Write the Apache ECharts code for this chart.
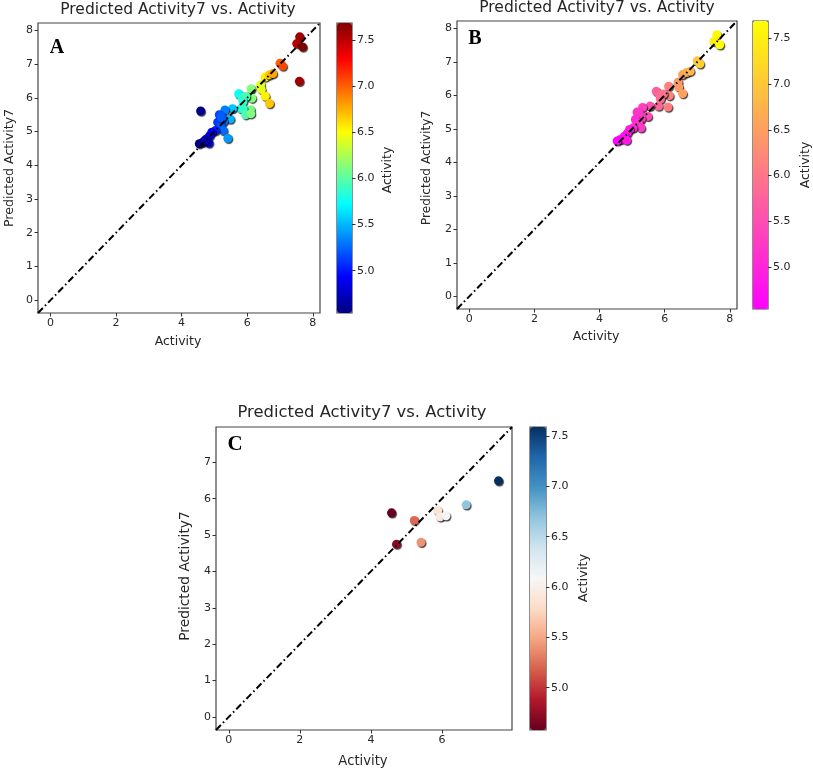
<!DOCTYPE html>
<html><head><meta charset="utf-8">
<script src="https://cdn.jsdelivr.net/npm/echarts@6/dist/echarts.min.js"></script>
<style>html,body{margin:0;padding:0;background:#fff}#c{width:813px;height:771px}</style>
</head><body><div id="c"></div>
<script>
// ---- data ----
const trainActual = [7.60,7.51,7.69,7.00,7.08,6.55,6.67,6.78,6.41,6.43,6.55,6.12,6.14,5.74,5.85,5.96,5.87,5.81,6.10,5.55,5.32,5.15,5.22,5.48,5.28,5.10,5.20,5.27,5.03,4.92,4.85,4.76,4.64,4.54,4.83];
const trainPred   = [7.81,7.61,7.51,7.03,6.94,6.62,6.68,6.72,6.39,6.25,6.05,6.27,5.99,6.12,6.00,6.04,5.89,5.68,5.65,5.68,5.64,5.50,5.46,5.37,5.30,5.28,5.17,5.03,5.03,4.98,4.87,4.78,4.68,4.64,4.66];
const testActual  = [4.58,4.72,5.22,5.41,5.88,5.95,6.11,6.68,7.59];
const testPred    = [5.61,4.75,5.40,4.80,5.67,5.50,5.53,5.83,6.49];
const limitsAB = [-0.38, 8.22];
const limitsC  = [-0.36, 7.97];
const ticksABx = [0,2,4,6,8];
const ticksABy = [0,1,2,3,4,5,6,7,8];
const ticksCx  = [0,2,4,6];
const ticksCy  = [0,1,2,3,4,5,6,7];
const cbTicks  = [5.0,5.5,6.0,6.5,7.0,7.5];
const titleText = 'Predicted Activity7 vs. Activity';
const xName = 'Activity', yName = 'Predicted Activity7', cbName = 'Activity';
const panelLetters = ['A','B','C'];

// colormaps
const jet = ['#00007f','#0000ff','#007fff','#00ffff','#7fff7f','#ffff00','#ff7f00','#ff0000','#7f0000'];
const spring = ['#ff00ff','#ffff00'];
const rdbu = ['#67001f','#b2182b','#d6604d','#f4a582','#fddbc7','#f7f7f7','#d1e5f0','#92c5de','#4393c3','#2166ac','#053061'];

const allActual = trainActual.concat(testActual);
const allPred = trainPred.concat(testPred);
const pairs = (a,b)=>a.map((v,i)=>[v,b[i]]);
const dataA = pairs(allActual, allPred);
const dataB = pairs(trainActual, trainPred);
const dataC = pairs(testActual, testPred);
const rangeA = [Math.min(...allActual), Math.max(...allActual)];
const rangeB = [Math.min(...trainActual), Math.max(...trainActual)];
const rangeC = [Math.min(...testActual), Math.max(...testActual)];

const FONT = 'DejaVu Sans';
const txtColor = '#262626';

const grids = [
  {left:38, top:23, width:282, height:290},   // A plot
  {left:337, top:23, width:15, height:290},   // A colorbar
  {left:457, top:21, width:280, height:288},  // B plot
  {left:753, top:21, width:15, height:288},   // B colorbar
  {left:216, top:427, width:296, height:303}, // C plot
  {left:530, top:427, width:16, height:303}   // C colorbar
].map(g=>Object.assign({show:true, borderColor:'#444', borderWidth:1.2, backgroundColor:'transparent', containLabel:false}, g));

function axisCommon(ticks, fmt){
  return {splitLine:{show:false},
    axisLine:{show:false, onZero:false},
    axisTick:{show:true, inside:false, length:3.5, lineStyle:{color:'#333', width:1}, customValues:ticks},
    axisLabel:{customValues:ticks, fontFamily:FONT, fontSize:11, color:txtColor, margin:5, formatter:fmt}};
}
function plotX(gi, lim, ticks){
  return Object.assign({type:'value', gridIndex:gi, min:lim[0], max:lim[1]}, axisCommon(ticks, v=>String(v)));
}
function plotY(gi, lim, ticks){
  return Object.assign({type:'value', gridIndex:gi, min:lim[0], max:lim[1]}, axisCommon(ticks, v=>String(v)));
}
function cbX(gi){ return {type:'value', gridIndex:gi, show:false, min:0, max:1}; }
function cbY(gi, rng){
  return Object.assign({type:'value', gridIndex:gi, position:'right', min:rng[0], max:rng[1]}, axisCommon(cbTicks, v=>v.toFixed(1)));
}

const dash = [7,3,1.5,3];
function scatter(xi, data){
  return {type:'scatter', xAxisIndex:xi, yAxisIndex:xi, data:data, symbolSize:9, z:2,
    itemStyle:{borderWidth:0, opacity:1, shadowColor:'rgba(0,0,0,0.75)', shadowOffsetX:1, shadowOffsetY:1.2, shadowBlur:1}};
}
function diag(xi, lim){
  return {type:'line', xAxisIndex:xi, yAxisIndex:xi, data:[[lim[0],lim[0]],[lim[1],lim[1]]],
    symbol:'none', silent:true, z:3, lineStyle:{color:'#000', width:2, type:dash}, clip:true};
}
function vm(si, rng, colors, g){
  return {type:'continuous', seriesIndex:si, dimension:0, min:rng[0], max:rng[1], calculable:false,
    inRange:{color:colors}, show:true, orient:'vertical', left:g.left, top:g.top, itemWidth:g.width, itemHeight:g.height,
    padding:0, text:null, hoverLink:false, realtime:false};
}

function txt(x,y,text,size){
  return {type:'text', x:x, y:y, style:{text:text, fontFamily:FONT, fontSize:size, fill:txtColor, textAlign:'center', textVerticalAlign:'middle'}};
}
function rtxt(x,y,text,size){
  return {type:'text', x:x, y:y, rotation:Math.PI/2, style:{text:text, fontFamily:FONT, fontSize:size, fill:txtColor, textAlign:'center', textVerticalAlign:'middle'}};
}
function letter(x,y,t,size){
  return {type:'text', x:x, y:y, style:{text:t, fontFamily:'Liberation Serif', fontWeight:'bold', fontSize:size, fill:'#000', textAlign:'center', textVerticalAlign:'middle'}};
}

const option = {
  backgroundColor:'#fff',
  animation:false,
  grid: grids,
  xAxis:[plotX(0,limitsAB,ticksABx), cbX(1), plotX(2,limitsAB,ticksABx), cbX(3), plotX(4,limitsC,ticksCx), cbX(5)],
  yAxis:[plotY(0,limitsAB,ticksABy), cbY(1,rangeA), plotY(2,limitsAB,ticksABy), cbY(3,rangeB), plotY(4,limitsC,ticksCy), cbY(5,rangeC)],
  visualMap:[vm(0,rangeA,jet,grids[1]), vm(2,rangeB,spring,grids[3]), vm(4,rangeC,rdbu,grids[5])],
  series:[
    scatter(0,dataA), diag(0,limitsAB),
    scatter(2,dataB), diag(2,limitsAB),
    scatter(4,dataC), diag(4,limitsC),
    {type:'scatter', xAxisIndex:1, yAxisIndex:1, data:[]},
    {type:'scatter', xAxisIndex:3, yAxisIndex:3, data:[]},
    {type:'scatter', xAxisIndex:5, yAxisIndex:5, data:[]}
  ],
  graphic:[
    txt(178,10,titleText,15.5),
    txt(597,8,titleText,15.5),
    txt(362,413,titleText,16.4),
    txt(178,342,xName,12.5),
    txt(596,337,xName,12.5),
    txt(363,762,xName,13.2),
    rtxt(10,168,yName,12.6),
    rtxt(427,168,yName,12.2),
    rtxt(185,576,yName,13.8),
    rtxt(388,170,cbName,12.5),
    rtxt(806,165,cbName,12.5),
    rtxt(584,578,cbName,13),
    letter(57,48,panelLetters[0],20),
    letter(475,39,panelLetters[1],20),
    letter(235,445,panelLetters[2],21)
  ]
};
const chart = echarts.init(document.getElementById('c'), null, {renderer:'canvas'});
chart.setOption(option);
</script></body></html>
